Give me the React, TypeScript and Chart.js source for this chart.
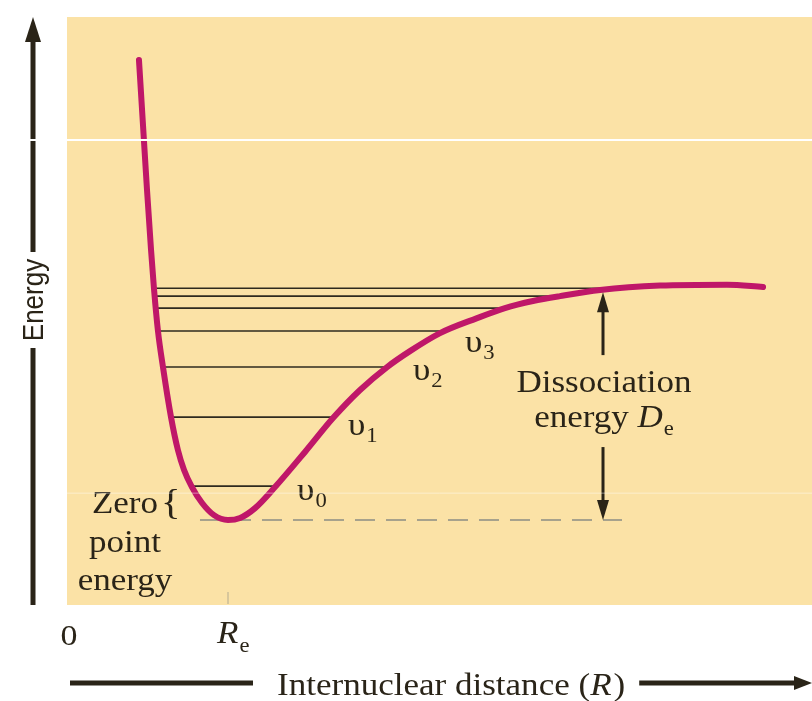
import React, { useEffect, useRef } from "react";
import { Chart, registerables } from "chart.js";
Chart.register(...registerables);

// ---- data (R in units of Re, E in units of De) ----
const R_MIN = 0, R_MAX = 4.627, E_MIN = -0.363, E_MAX = 2.15;
const RE_VALUE = 1;
const R_CURVE = [0.447, 0.472, 0.497, 0.522, 0.54, 0.565, 0.596, 0.646, 0.689, 0.727, 0.776, 0.839, 0.913, 1.0, 1.075, 1.168, 1.292, 1.478, 1.652, 1.82, 1.988, 2.13, 2.317, 2.547, 2.72, 2.894, 3.062, 3.311, 3.683, 4.099, 4.323];
const E_CURVE = [1.966, 1.688, 1.41, 1.154, 0.991, 0.808, 0.654, 0.44, 0.299, 0.214, 0.141, 0.073, 0.021, 0.0, 0.009, 0.051, 0.141, 0.291, 0.436, 0.556, 0.654, 0.722, 0.799, 0.863, 0.906, 0.936, 0.957, 0.983, 1.002, 1.006, 0.996];
const LEVEL_E = [0.145, 0.44, 0.654, 0.808, 0.906, 0.957, 0.991];
const LEVEL_R_LEFT = [0.774, 0.646, 0.596, 0.565, 0.552, 0.545, 0.54];
const LEVEL_R_RIGHT = [1.292, 1.652, 1.988, 2.323, 2.72, 3.062, 3.329];
const LABEL_SUB = ["0", "1", "2", "3"];
const LABEL_R = [1.429, 1.745, 2.149, 2.472];
const LABEL_E = [0.085, 0.363, 0.598, 0.718];
const ZERO_LINE_R = [0.826, 3.447];
const ARROW_R = 3.329;
const ARROW_TOP_E = [0.974, 0.705];
const ARROW_BOT_E = [0.312, 0.0];
const ZPE_LINES = ["Zero", "point", "energy"];
const ZPE_E = [0.03, -0.137, -0.299];
const ZPE_R = 0.36;
const DISS_LINES = ["Dissociation", "energy "];
const DISS_E = [0.547, 0.397];
const X_LABELS = ["0", "R"];
const X_TITLE = "Internuclear distance (";
const Y_TITLE = "Energy";
const ARTIFACT_E = [1.624, 0.115];

const SX = 1.13;
const SERIF = '"Liberation Serif", "Times New Roman", serif';
const SANS = '"Liberation Sans", Arial, sans-serif';
const INK = "#2a2418";
const BG = "#fbe2a6";
const CURVE = "#bf1769";

function txt(ctx: CanvasRenderingContext2D, s: string, x: number, y: number, font: string, align: CanvasTextAlign = "left") {
  ctx.save();
  ctx.translate(x, y);
  ctx.scale(SX, 1);
  ctx.font = font;
  ctx.textAlign = align;
  ctx.textBaseline = "alphabetic";
  ctx.fillStyle = INK;
  ctx.fillText(s, 0, 0);
  ctx.restore();
}
function tw(ctx: CanvasRenderingContext2D, s: string, font: string) {
  ctx.save();
  ctx.font = font;
  const w = ctx.measureText(s).width * SX;
  ctx.restore();
  return w;
}
function head(ctx: CanvasRenderingContext2D, x: number, y: number, dir: string, hw: number, len: number) {
  ctx.beginPath();
  ctx.moveTo(x, y);
  if (dir === "up") { ctx.lineTo(x - hw, y + len); ctx.lineTo(x + hw, y + len); }
  else if (dir === "down") { ctx.lineTo(x - hw, y - len); ctx.lineTo(x + hw, y - len); }
  else { ctx.lineTo(x - len, y - hw); ctx.lineTo(x - len, y + hw); }
  ctx.closePath();
  ctx.fill();
}
function seg(ctx: CanvasRenderingContext2D, x1: number, y1: number, x2: number, y2: number, w: number) {
  ctx.beginPath();
  ctx.lineWidth = w;
  ctx.moveTo(x1, y1);
  ctx.lineTo(x2, y2);
  ctx.stroke();
}

const decor = {
  id: "decor",
  beforeDatasetsDraw(chart: any) {
    const { ctx, chartArea: a } = chart;
    ctx.save();
    ctx.fillStyle = BG;
    ctx.fillRect(a.left, a.top, a.right - a.left, a.bottom - a.top);
    ctx.restore();
  },
  afterDatasetsDraw(chart: any) {
    const { ctx, chartArea: a, scales } = chart;
    const X = (v: number) => scales.x.getPixelForValue(v);
    const Y = (v: number) => scales.y.getPixelForValue(v);
    ctx.save();
    ctx.strokeStyle = INK;
    ctx.fillStyle = INK;
    // dissociation arrows
    const ax = X(ARROW_R);
    seg(ctx, ax, Y(ARROW_TOP_E[0]) + 15, ax, Y(ARROW_TOP_E[1]), 3);
    head(ctx, ax, Y(ARROW_TOP_E[0]), "up", 6, 20);
    seg(ctx, ax, Y(ARROW_BOT_E[0]), ax, Y(ARROW_BOT_E[1]) - 15, 3);
    head(ctx, ax, Y(ARROW_BOT_E[1]), "down", 6, 20);

    const F = `31px ${SERIF}`;
    const FI = `italic 31px ${SERIF}`;
    const FS = `20px ${SERIF}`;
    // vibrational labels
    for (let i = 0; i < LABEL_SUB.length; i++) {
      const x = X(LABEL_R[i]);
      const y = Y(LABEL_E[i]);
      txt(ctx, "\u03c5", x, y, F);
      txt(ctx, LABEL_SUB[i], x + tw(ctx, "\u03c5", F) + 1, y + 7, FS);
    }
    // dissociation text
    txt(ctx, DISS_LINES[0], ax + 1, Y(DISS_E[0]), F, "center");
    const w1 = tw(ctx, DISS_LINES[1], F), w2 = tw(ctx, "D", FI), w3 = tw(ctx, "e", FS);
    const sx = ax + 1 - (w1 + w2 + w3 + 1) / 2;
    txt(ctx, DISS_LINES[1], sx, Y(DISS_E[1]), F);
    txt(ctx, "D", sx + w1, Y(DISS_E[1]), FI);
    txt(ctx, "e", sx + w1 + w2 + 1, Y(DISS_E[1]) + 8, FS);
    // zero point energy
    for (let i = 0; i < ZPE_LINES.length; i++) {
      txt(ctx, ZPE_LINES[i], X(ZPE_R), Y(ZPE_E[i]), F, "center");
    }
    const zr = X(ZPE_R) + tw(ctx, ZPE_LINES[0], F) / 2 + 3;
    txt(ctx, "{", zr, Y(0) - 6, `36px ${SERIF}`);

    // outside: axes
    ctx.strokeStyle = "#b4ab90";
    seg(ctx, X(RE_VALUE), a.bottom - 13, X(RE_VALUE), a.bottom - 1, 1);
    ctx.strokeStyle = INK;
    txt(ctx, X_LABELS[0], X(0) + 2, a.bottom + 40, `30px ${SERIF}`, "center");
    const rx = X(RE_VALUE) - 11;
    txt(ctx, X_LABELS[1], rx, a.bottom + 38, FI);
    txt(ctx, "e", rx + tw(ctx, "R", FI) + 1, a.bottom + 47, FS);
    const ty = a.bottom + 90;
    const tx = 277;
    const tw1 = tw(ctx, X_TITLE, F), tw2 = tw(ctx, "R", FI);
    txt(ctx, X_TITLE, tx, ty, F);
    txt(ctx, "R", tx + tw1, ty, FI);
    txt(ctx, ")", tx + tw1 + tw2 + 2, ty, F);
    const lineY = a.bottom + 78;
    seg(ctx, a.left + 3, lineY, 253, lineY, 5);
    const rEnd = tx + tw1 + tw2 + 2 + tw(ctx, ")", F) + 14;
    seg(ctx, rEnd, lineY, 797, lineY, 5);
    head(ctx, 812, lineY, "right", 7, 18);
    const yx = 33;
    seg(ctx, yx, a.bottom, yx, 348, 5);
    seg(ctx, yx, 252, yx, a.top + 22, 5);
    head(ctx, yx, a.top, "up", 8, 25);
    ctx.save();
    ctx.translate(yx + 2, 300);
    ctx.scale(SX, 1);
    ctx.rotate(-Math.PI / 2);
    ctx.font = `26px ${SANS}`;
    ctx.textAlign = "center";
    ctx.textBaseline = "middle";
    ctx.fillStyle = INK;
    ctx.fillText(Y_TITLE, 0, 0);
    ctx.restore();
    // scan artifacts
    ctx.strokeStyle = "#ffffff";
    seg(ctx, 22, Y(ARTIFACT_E[0]), 812, Y(ARTIFACT_E[0]), 2);
    ctx.strokeStyle = "rgba(255,255,255,0.45)";
    seg(ctx, a.left, Y(ARTIFACT_E[1]), 812, Y(ARTIFACT_E[1]), 1);
    ctx.restore();
  },
};

export default function App() {
  const ref = useRef<HTMLCanvasElement | null>(null);
  useEffect(() => {
    if (!ref.current) return;
    const datasets: any[] = [
      {
        data: R_CURVE.map((r, i) => ({ x: r, y: E_CURVE[i] })),
        borderColor: CURVE,
        borderWidth: 6,
        pointRadius: 0,
        showLine: true,
        cubicInterpolationMode: "monotone",
        borderCapStyle: "round",
        borderJoinStyle: "round",
        order: 0,
      },
    ];
    LEVEL_E.forEach((e, i) => {
      datasets.push({
        data: [{ x: LEVEL_R_LEFT[i], y: e }, { x: LEVEL_R_RIGHT[i], y: e }],
        borderColor: "#2e2a1e",
        borderWidth: 1.6,
        pointRadius: 0,
        showLine: true,
        order: 1,
      });
    });
    datasets.push({
      data: [{ x: ZERO_LINE_R[0], y: 0 }, { x: ZERO_LINE_R[1], y: 0 }],
      borderColor: "#a7a28c",
      borderWidth: 2,
      borderDash: [20, 11],
      pointRadius: 0,
      showLine: true,
      order: 2,
    });
    const chart = new Chart(ref.current, {
      type: "scatter",
      data: { datasets },
      options: {
        animation: false,
        responsive: true,
        maintainAspectRatio: false,
        devicePixelRatio: 1,
        layout: { padding: { left: 67, right: 0, top: 17, bottom: 96 } },
        plugins: { legend: { display: false }, tooltip: { enabled: false } },
        scales: {
          x: { type: "linear", display: false, min: R_MIN, max: R_MAX },
          y: { type: "linear", display: false, min: E_MIN, max: E_MAX },
        },
      },
      plugins: [decor],
    });
    return () => chart.destroy();
  }, []);
  return (
    <div style={{ position: "fixed", left: 0, top: 0, width: 812, height: 701, background: "#fff" }}>
      <canvas ref={ref} />
    </div>
  );
}
